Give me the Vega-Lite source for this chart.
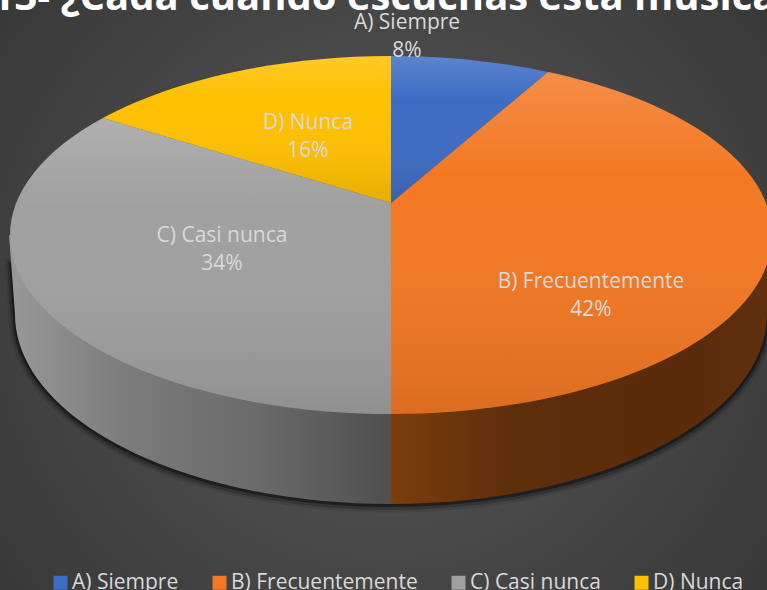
{
"$schema":"https://vega.github.io/schema/vega-lite/v6.json",
"width":767,"height":590,"padding":0,"autosize":{"type":"none"},
"background":"#3d3d3d",
"config":{"view":{"stroke":null,"fill":{"gradient":"radial","x1":0.5,"y1":0.5,"x2":0.5,"y2":0.5,"r1":0,"r2":0.8,"stops":[{"offset":0,"color":"#5a5a5a"},{"offset":1,"color":"#2f2f2f"}]}}},
"title":{"text":"13- ¿Cada cuándo escuchas esta música?","anchor":"middle","offset":-18,"dx":10,"font":"Open Sans","fontWeight":"bold","fontSize":40,"color":"#ffffff","frame":"group"},
"data":{"values":[{"label":"A) Siempre","value":8,"pct":"8%"},{"label":"B) Frecuentemente","value":42,"pct":"42%"},{"label":"C) Casi nunca","value":34,"pct":"34%"},{"label":"D) Nunca","value":16,"pct":"16%"}]},
"layer":[
{"transform":[{"filter":"datum.value==8"}],"mark":{"type":"point","filled":false,"size":4,"opacity":0.1,"stroke":"#000","strokeWidth":13,"shape":"M-372,-30L-368.5,21A376,190,0,0,0,383.5,21L387,-30Z"}},
{"transform":[{"filter":"datum.value==8"}],"mark":{"type":"point","filled":false,"size":4,"opacity":0.2,"stroke":"#000","strokeWidth":8,"shape":"M-372,-30L-368.5,21A376,190,0,0,0,383.5,21L387,-30Z"}},
{"transform":[{"filter":"datum.value==8"}],"mark":{"type":"point","filled":false,"size":4,"opacity":0.4,"stroke":"#000","strokeWidth":4,"shape":"M-372,-30L-368.5,20A376,190,0,0,0,383.5,20L387,-30Z"}},
{"transform":[{"filter":"datum.value==34"}],"mark":{"type":"point","filled":true,"size":4,"opacity":1,"strokeWidth":0,"shape":"M-374.5,-60L7.5,100L7.5,209A376,190,0,0,1,-368.5,19Z","fill":{"gradient":"linear","x1":0,"y1":0,"x2":1,"y2":0,"stops":[{"offset":0,"color":"#999999"},{"offset":0.3,"color":"#7c7c7c"},{"offset":0.65,"color":"#6a6a6a"},{"offset":1,"color":"#4f4f4f"}]}}},
{"transform":[{"filter":"datum.value==42"}],"mark":{"type":"point","filled":true,"size":4,"opacity":1,"strokeWidth":0,"shape":"M7.5,100L389.5,-60L383.5,19A376,190,0,0,1,7.5,209Z","fill":{"gradient":"linear","x1":0,"y1":0,"x2":1,"y2":0,"stops":[{"offset":0,"color":"#7c3d0c"},{"offset":0.3,"color":"#5f2e0b"},{"offset":0.75,"color":"#5a2b0b"},{"offset":1,"color":"#60300e"}]}}},
{"mark":{"type":"point","filled":true,"size":4,"opacity":1,"strokeWidth":0},
 "encoding":{
  "shape":{"field":"pct","type":"nominal","legend":null,"scale":{"domain":["8%","42%","34%","16%"],"range":["M7.5,-92L7.5,-239A382,179,0,0,1,164.5,-223Z","M7.5,-92L164.5,-223A382,179,0,0,1,7.5,119Z","M7.5,-92L7.5,119A382,179,0,0,1,-280.5,-177Z","M7.5,-92L-280.5,-177A382,179,0,0,1,7.5,-239Z"]}},
  "color":{"field":"label","type":"nominal","scale":{"domain":["A) Siempre","B) Frecuentemente","C) Casi nunca","D) Nunca"],"range":["#3d6cc4","#f37823","#a0a0a0","#ffc000"]},
   "legend":{"orient":"none","legendX":50,"legendY":572,"direction":"horizontal","columns":4,"title":null,"symbolType":"square","symbolSize":196,"symbolStrokeWidth":0,"symbolOpacity":1,"labelFont":"Open Sans","labelFontSize":21,"labelColor":"#d9d9d9","labelLimit":300,"columnPadding":30,"labelOffset":1}}
 }},
{"mark":{"type":"point","filled":true,"size":4,"opacity":1,"strokeWidth":0,"fill":{"gradient":"linear","x1":0,"y1":0,"x2":0,"y2":1,"stops":[{"offset":0,"color":"rgba(255,255,255,0.16)"},{"offset":0.3,"color":"rgba(255,255,255,0)"},{"offset":1,"color":"rgba(0,0,0,0.1)"}]}},
 "encoding":{"shape":{"field":"pct","type":"nominal","legend":null,"scale":{"domain":["8%","42%","34%","16%"],"range":["M7.5,-92L7.5,-239A382,179,0,0,1,164.5,-223Z","M7.5,-92L164.5,-223A382,179,0,0,1,7.5,119Z","M7.5,-92L7.5,119A382,179,0,0,1,-280.5,-177Z","M7.5,-92L-280.5,-177A382,179,0,0,1,7.5,-239Z"]}}}},
{"mark":{"type":"text","font":"Open Sans","fontSize":21,"color":"#d9d9d9","align":"center","baseline":"middle"},
 "encoding":{
  "x":{"field":"value","type":"quantitative","axis":null,"scale":{"domain":[8,16,34,42],"range":[407,308,222,591],"zero":false,"nice":false}},
  "y":{"field":"value","type":"quantitative","axis":null,"scale":{"domain":[8,16,34,42],"range":[23,123,236,282],"zero":false,"nice":false}},
  "text":{"field":"label"}}},
{"mark":{"type":"text","font":"Open Sans","fontSize":21,"color":"#d9d9d9","align":"center","baseline":"middle","dy":28},
 "encoding":{
  "x":{"field":"value","type":"quantitative","axis":null,"scale":{"domain":[8,16,34,42],"range":[407,308,222,591],"zero":false,"nice":false}},
  "y":{"field":"value","type":"quantitative","axis":null,"scale":{"domain":[8,16,34,42],"range":[23,123,236,282],"zero":false,"nice":false}},
  "text":{"field":"pct"}}}
]}
